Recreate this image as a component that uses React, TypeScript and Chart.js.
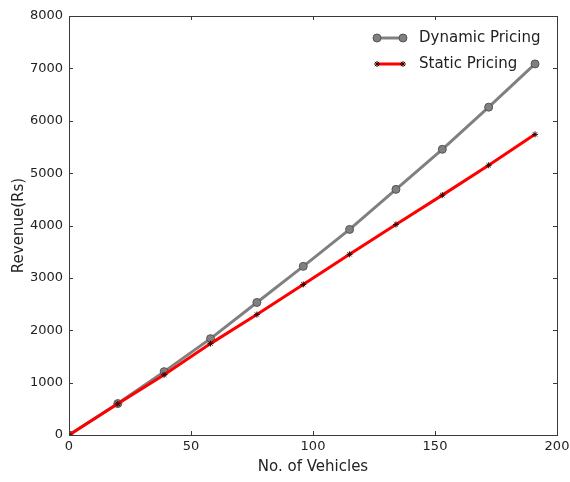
import React, { useEffect, useRef } from "react";
import { Chart, registerables } from "chart.js";

Chart.register(...registerables);

const vehicles = [0, 20, 39, 58, 77, 96, 115, 134, 153, 172, 191];
const dynamicRevenue = [0, 600, 1210, 1840, 2530, 3220, 3925, 4690, 5455, 6260, 7085];
const staticRevenue = [0, 595, 1150, 1745, 2300, 2875, 3450, 4020, 4580, 5150, 5740];
const xTicks = [0, 50, 100, 150, 200];
const yTicks = [0, 1000, 2000, 3000, 4000, 5000, 6000, 7000, 8000];

const FONT = "'DejaVu Sans', sans-serif";

const framePlugin = {
  id: "frameTicks",
  afterDatasetsDraw(chart: any) {
    const { ctx, chartArea: a, scales } = chart;
    ctx.save();
    ctx.strokeStyle = "#3a3a3a";
    ctx.lineWidth = 1;
    ctx.beginPath();
    const len = 4;
    for (const t of xTicks) {
      const x = Math.round(scales.x.getPixelForValue(t)) + 0.5;
      ctx.moveTo(x, a.bottom);
      ctx.lineTo(x, a.bottom - len);
      ctx.moveTo(x, a.top);
      ctx.lineTo(x, a.top + len);
    }
    for (const t of yTicks) {
      const y = Math.round(scales.y.getPixelForValue(t)) + 0.5;
      ctx.moveTo(a.left, y);
      ctx.lineTo(a.left + len, y);
      ctx.moveTo(a.right, y);
      ctx.lineTo(a.right - len, y);
    }
    ctx.stroke();
    ctx.strokeRect(Math.round(a.left) + 0.5, Math.round(a.top) + 0.5, Math.round(a.right - a.left), Math.round(a.bottom - a.top));

    // legend
    const items = [
      { label: "Dynamic Pricing", color: "#808080", y: 38, marker: "circle" },
      { label: "Static Pricing", color: "#ff0000", y: 64, marker: "star" },
    ];
    const x0 = 377, x1 = 403;
    for (const it of items) {
      ctx.strokeStyle = it.color;
      ctx.lineWidth = 3;
      ctx.beginPath();
      ctx.moveTo(x0, it.y);
      ctx.lineTo(x1, it.y);
      ctx.stroke();
      for (const px of [x0, x1]) {
        if (it.marker === "circle") {
          ctx.beginPath();
          ctx.arc(px, it.y, 4, 0, Math.PI * 2);
          ctx.fillStyle = "#808080";
          ctx.fill();
          ctx.strokeStyle = "#555555";
          ctx.lineWidth = 1;
          ctx.stroke();
        } else {
          ctx.beginPath();
          for (let i = 0; i < 4; i++) {
            const ang = (i * Math.PI) / 4;
            ctx.moveTo(px - 3 * Math.cos(ang), it.y - 3 * Math.sin(ang));
            ctx.lineTo(px + 3 * Math.cos(ang), it.y + 3 * Math.sin(ang));
          }
          ctx.strokeStyle = "#330000";
          ctx.lineWidth = 1;
          ctx.stroke();
        }
      }
      ctx.fillStyle = "#222222";
      ctx.font = `15px ${FONT}`;
      ctx.textBaseline = "middle";
      ctx.textAlign = "left";
      ctx.fillText(it.label, 419, it.y);
    }
    ctx.restore();
  },
};

export default function App() {
  const ref = useRef<HTMLCanvasElement | null>(null);
  useEffect(() => {
    if (!ref.current) return;
    const chart = new Chart(ref.current, {
      type: "line",
      data: {
        datasets: [
          {
            label: "Dynamic Pricing",
            data: vehicles.map((v, i) => ({ x: v, y: dynamicRevenue[i] })),
            borderColor: "#808080",
            backgroundColor: "#808080",
            borderWidth: 3,
            pointRadius: 4,
            pointBackgroundColor: "#808080",
            pointBorderColor: "#555555",
            pointBorderWidth: 1,
            pointStyle: "circle",
            order: 1,
          },
          {
            label: "Static Pricing",
            data: vehicles.map((v, i) => ({ x: v, y: staticRevenue[i] })),
            borderColor: "#ff0000",
            backgroundColor: "#ff0000",
            borderWidth: 3,
            pointRadius: 3,
            pointBorderColor: "#330000",
            pointBackgroundColor: "#330000",
            pointBorderWidth: 1,
            pointStyle: "star",
            order: 0,
          },
        ],
      },
      options: {
        animation: false,
        responsive: false,
        maintainAspectRatio: false,
        layout: { padding: { top: 16, right: 13, left: 0, bottom: 0 } },
        plugins: { legend: { display: false }, tooltip: { enabled: false } },
        scales: {
          x: {
            type: "linear",
            min: 0,
            max: 200,
            grid: { display: false, drawTicks: false },
            border: { display: false },
            afterFit: (s: any) => { s.height = 47; s.paddingLeft = 0; s.paddingRight = 0; },
            afterBuildTicks: (s: any) => { s.ticks = xTicks.map((v) => ({ value: v })); },
            ticks: { color: "#222", font: { family: FONT, size: 13 }, padding: 4, maxRotation: 0, callback: (v: any) => String(v) },
            title: { display: true, text: "No. of Vehicles", color: "#222", font: { family: FONT, size: 15 }, padding: { top: 0, bottom: 6 } },
          },
          y: {
            type: "linear",
            min: 0,
            max: 8000,
            grid: { display: false, drawTicks: false },
            border: { display: false },
            afterFit: (s: any) => { s.width = 69; s.paddingTop = 0; s.paddingBottom = 0; },
            afterBuildTicks: (s: any) => { s.ticks = yTicks.map((v) => ({ value: v })); },
            ticks: { color: "#222", font: { family: FONT, size: 13 }, padding: 6, callback: (v: any) => String(v) },
            title: { display: true, text: "Revenue(Rs)", color: "#222", font: { family: FONT, size: 15 }, padding: { top: 10, bottom: 10 } },
          },
        },
      },
      plugins: [framePlugin],
    } as any);
    return () => chart.destroy();
  }, []);
  return (
    <div style={{ position: "fixed", left: 0, top: 0, width: 570, height: 482, background: "#fff" }}>
      <canvas ref={ref} width={570} height={482} style={{ width: 570, height: 482, display: "block" }} />
    </div>
  );
}
